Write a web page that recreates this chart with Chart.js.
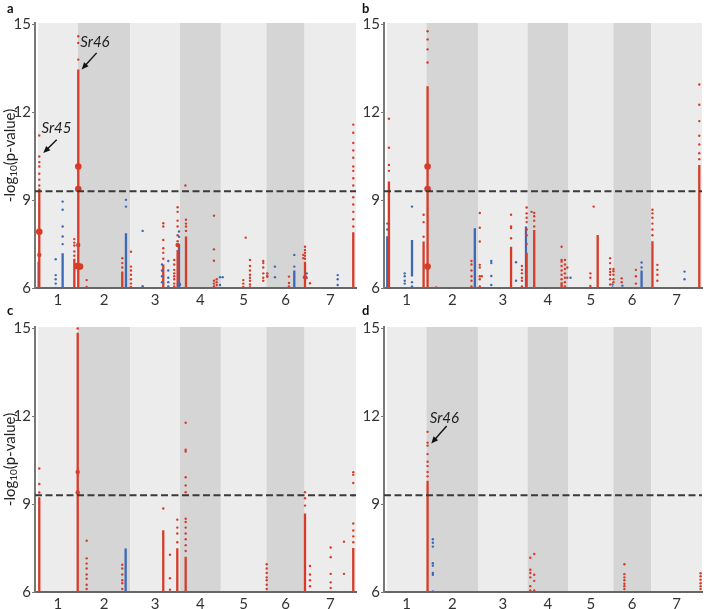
<!DOCTYPE html>
<html><head><meta charset="utf-8">
<script src="https://cdn.jsdelivr.net/npm/chart.js@4/dist/chart.umd.min.js"></script>
<style>
html,body{margin:0;padding:0;background:#fff;}
#wrap{position:relative;width:706px;height:609px;overflow:hidden;}
.p{position:absolute;}
canvas{display:block;}
</style></head><body>
<div id="wrap">
<div class="p" style="left:0;top:0;width:360px;height:305px"><canvas id="ca" width="360" height="305"></canvas></div>
<div class="p" style="left:352px;top:0;width:354px;height:305px"><canvas id="cb" width="354" height="305"></canvas></div>
<div class="p" style="left:0;top:300px;width:360px;height:309px"><canvas id="cc" width="360" height="309"></canvas></div>
<div class="p" style="left:352px;top:300px;width:354px;height:309px"><canvas id="cd" width="354" height="309"></canvas></div>
</div>
<script>
// ---------- shared data ----------
const chromosomes = ['1','2','3','4','5','6','7'];
const chromLengthsMb = [495, 651, 615, 509, 566, 473, 638];
const yTickValues = [6, 9, 12, 15];
const threshold = 9.3;

// ---------- panel a ----------
const aRedRuns = [[16,6,9.4],[451,6,7.0],[500,6,13.46],[1046,6,6.56],[1555,6,6.8],[1733,6,7.3],[1837,6,7.76],[3314,6,6.9],[3913,6,7.9]];
const aBlueRuns = [[8,6,6.9],[306,6,7.19],[1092,6,7.87],[1750,6,7.5],[3181,6,6.6]];
const aRedDots = [
 [16,[9.5,9.7,9.9,10.15,10.3,10.49,11.21]],
 [451,[7.67,7.55,7.45,7.25,7.1]],
 [500,[13.8,14.37,14.6]],
 [604,[6.27,6.04]],
 [1046,[7.02,6.85,6.7]],
 [1154,[7.24,6.73,6.6,6.45,6.3,6.15,6.04]],
 [1555,[8.21,8.1,7.64,7.36,7.2,7.0]],
 [1691,[6.96,6.8,6.62,6.5,6.4,6.3,6.15,6.05]],
 [1733,[8.76,8.6,8.3,8.1,7.8,7.6,7.45]],
 [1830,[9.5]],
 [1837,[8.33,8.2,8.1,7.95]],
 [2184,[8.47,7.32,6.93,6.25,6.15,6.05]],
 [2218,[6.3,6.2,6.1,6.0]],
 [2548,[6.27,6.15,6.04]],
 [2578,[7.72]],
 [2631,[6.96,6.75,6.6,6.45,6.35,6.25,6.12,6.03]],
 [2796,[6.92,6.85,6.7,6.5,6.35,6.25]],
 [2846,[6.5,6.42,6.38]],
 [3115,[6.39,6.17,6.05]],
 [3293,[7.13,7.02]],
 [3314,[7.41,7.3,7.2,7.1,7.0]],
 [3376,[6.16]],
 [3913,[8.1,8.35,8.6,8.85,9.1,9.5,9.75,10.0,10.15,10.45,10.7,10.95,11.3,11.58]]
];
const aBlueDots = [
 [220,[6.98,6.44,6.3,6.15,6.0]],
 [306,[8.95,8.67,8.10,7.76,7.5]],
 [1092,[9.01,8.78]],
 [1299,[7.95,6.06]],
 [1539,[6.8,6.6,6.4,6.2]],
 [1617,[6.92,6.6,6.35,6.2,6.05]],
 [1750,[7.93,7.75]],
 [2259,[6.37,6.1]],
 [2292,[6.37]],
 [2941,[6.73,6.37]],
 [3181,[7.13,6.73]],
 [3335,[6.5,6.35]],
 [3720,[6.44,6.3,6.1]]
];
const aBigRed = [[16,7.92],[500,10.15],[500,9.38],[490,6.75],[522,6.73]];
const aMidRed = [[16,7.13],[500,7.47],[1733,7.47],[3314,6.37]];
const aBigBlue = [[1750,6.12]];

// ---------- panel b ----------
const bRedRuns = [[25,6,9.64],[459,6,7.59],[509,6,12.89],[1555,6,7.41],[1750,6,7.2],[1845,6,7.98],[2188,6,6.2],[2640,6,7.81],[3326,6,7.6],[3913,6,10.2]];
const bBlueRuns = [[4,6,7.77],[314,6.39,7.64],[1101,6,8.04],[1742,6,8.10],[3190,6,6.6]];
const bRedDots = [
 [25,[10.0,10.2,10.79,11.78]],
 [459,[8.50,8.25,7.75]],
 [509,[13.7,14.15,14.49,14.77]],
 [617,[6.02]],
 [1059,[6.92,6.8,6.6,6.4,6.25,6.05]],
 [1163,[8.56,8.06,7.59,6.79,6.7,6.4,6.3,6.05]],
 [1188,[6.4]],
 [1555,[8.50,8.1,8.05,7.7]],
 [1691,[6.75,6.62,6.5,6.35,6.25,6.05]],
 [1750,[8.75,8.55,8.4,8.25,8.0,7.8,7.5]],
 [1812,[8.6]],
 [1845,[8.56,8.45,8.3,8.1]],
 [2188,[7.41,6.96,6.9,6.75,6.6,6.45,6.3]],
 [2230,[6.96,6.8,6.65,6.5,6.35,6.2,6.05]],
 [2259,[6.7,6.35]],
 [2548,[6.5,6.35,6.07]],
 [2590,[8.78]],
 [2796,[7.02,6.85,6.65,6.55,6.45,6.3,6.12]],
 [2838,[6.65,6.57,6.45,6.3,6.2]],
 [2941,[6.33,6.2]],
 [3119,[6.62,6.4,6.15]],
 [3326,[8.67,8.55,8.4,8.2,8.0,7.8]],
 [3388,[6.79,6.62,6.45,6.25]],
 [3913,[10.4,10.6,10.9,11.2,11.7,12.26,12.95]]
];
const bBlueDots = [
 [4,[8.0,8.2]],
 [223,[6.5,6.4,6.25,6.15]],
 [314,[8.78,6.2,6.05]],
 [1307,[6.92,6.85,6.41,6.1]],
 [1617,[6.88,6.25]],
 [2300,[6.35]],
 [2826,[6.12,6.02]],
 [2950,[6.08]],
 [3190,[6.87,6.7]],
 [3728,[6.56,6.3]]
];
const bBigRed = [[509,10.15],[509,9.38],[509,6.73]];
const bMidRed = [];
const bBigBlue = [];

// ---------- panel c ----------
const cRedRuns = [[16,6,9.24],[493,6,14.85],[1555,6,8.11],[1729,6,7.49],[1833,6,7.2],[3314,6,8.68],[3913,6,7.5]];
const cBlueRuns = [[1088,6,7.49]];
const cRedDots = [
 [16,[9.4,9.69,10.22]],
 [493,[15.0]],
 [604,[7.75,7.15,6.97,6.8,6.6,6.45,6.25,6.1]],
 [1046,[6.93,6.8,6.6,6.4,6.3,6.1]],
 [1555,[8.85]],
 [1638,[7.27,6.47,6.08]],
 [1729,[8.47,8.2,8.0,7.7]],
 [1833,[11.78,10.86,10.8,9.92,9.64,9.41,8.5,8.39,8.2,8.0,7.8,7.6,7.4]],
 [2839,[6.95,6.8,6.65,6.5,6.4,6.25,6.1]],
 [3314,[9.41,9.2,8.95]],
 [3376,[6.89,6.6,6.4,6.2]],
 [3633,[7.52,7.19,6.62,6.33,6.14]],
 [3798,[7.72,6.62]],
 [3913,[10.09,10.0,9.72,9.3,8.34,8.1,7.9,7.7]]
];
const cBlueDots = [];
const cBigRed = [];
const cMidRed = [[493,10.1],[493,9.4]];
const cBigBlue = [];

// ---------- panel d ----------
const dRedRuns = [[509,6,9.8]];
const dBlueRuns = [];
const dRedDots = [
 [509,[9.95,10.1,10.3,10.45,10.71,11.0,11.1,11.47]],
 [1796,[7.17,6.76,6.65,6.5,6.2,6.05]],
 [1845,[7.3,6.59,6.38,6.05]],
 [2975,[6.95,6.61,6.5,6.4,6.28,6.2,6.1]],
 [3929,[6.64,6.54,6.42,6.3,6.2,6.1]]
];
const dBlueDots = [[575,[7.8,7.68,7.55,6.98,6.9,6.65,6.59,6.02]]];
const dBigRed = [];
const dMidRed = [];
const dBigBlue = [];

// ---------- styles ----------
const RED = '#d63c29';
const BLUE = '#3c68b8';
const BAND_LIGHT = '#ececec';
const BAND_DARK = '#d5d5d5';
const FONT = 'Lato, "Open Sans", "Liberation Sans", sans-serif';
Chart.defaults.font.family = FONT;

const genomeEnd = chromLengthsMb.reduce((a,b)=>a+b,0);
const chromStarts = chromLengthsMb.map((l,i)=>chromLengthsMb.slice(0,i).reduce((a,b)=>a+b,0));
const chromCenters = chromLengthsMb.map((l,i)=>chromStarts[i]+l/2);
const X_MIN = -37;

function runsData(runs){const out=[];runs.forEach(([x,lo,hi])=>{out.push({x:x,y:lo},{x:x,y:hi},{x:x,y:null});});return out;}
function dotsData(groups){const out=[];groups.forEach(([x,ys])=>ys.forEach(y=>out.push({x:x,y:y})));return out;}
function pairsData(pairs){return pairs.map(([x,y])=>({x:x,y:y}));}

const bandsPlugin = {
  id:'bands',
  beforeDraw(chart){
    const {ctx, chartArea, scales} = chart; const x = scales.x;
    ctx.save();
    chromLengthsMb.forEach((len,i)=>{
      const x0 = x.getPixelForValue(chromStarts[i]);
      const x1 = x.getPixelForValue(chromStarts[i]+len);
      ctx.fillStyle = i%2 ? BAND_DARK : BAND_LIGHT;
      ctx.fillRect(x0, chartArea.top, x1-x0, chartArea.bottom-chartArea.top);
    });
    ctx.restore();
  }
};

const decorPlugin = {
  id:'decor',
  afterDraw(chart, args, opts){
    const {ctx, chartArea, scales} = chart;
    ctx.save();
    ctx.fillStyle = '#111';
    ctx.font = 'bold 13px ' + FONT;
    ctx.textBaseline = 'alphabetic';
    ctx.textAlign = 'left';
    ctx.fillText(opts.letter, opts.letterX, opts.letterY);
    if (opts.yTitle){
      const midY = (chartArea.top + chartArea.bottom)/2;
      ctx.translate(10, midY);
      ctx.rotate(-Math.PI/2);
      const big = '15px ' + FONT, small = '10px ' + FONT;
      ctx.font = big; const w1 = ctx.measureText('-log').width;
      ctx.font = small; const w2 = ctx.measureText('10').width;
      ctx.font = big; const w3 = ctx.measureText('(p-value)').width;
      let sx = -(w1+w2+w3)/2;
      ctx.fillStyle = '#222';
      ctx.textBaseline = 'middle';
      ctx.font = big; ctx.fillText('-log', sx, 0); sx += w1;
      ctx.font = small; ctx.fillText('10', sx, 4); sx += w2;
      ctx.font = big; ctx.fillText('(p-value)', sx, 0);
      ctx.setTransform(1,0,0,1,0,0);
    }
    (opts.notes||[]).forEach(n=>{
      const X = v=>scales.x.getPixelForValue(v), Y = v=>scales.y.getPixelForValue(v);
      ctx.fillStyle = '#222';
      ctx.font = 'italic 15px ' + FONT;
      ctx.textAlign = 'center'; ctx.textBaseline = 'middle';
      ctx.fillText(n.text, X(n.tx), Y(n.ty));
      const x0 = X(n.ax0), y0 = Y(n.ay0), x1 = X(n.ax1), y1 = Y(n.ay1);
      const ang = Math.atan2(y1-y0, x1-x0);
      ctx.strokeStyle = '#111'; ctx.lineWidth = 1.4;
      ctx.beginPath(); ctx.moveTo(x0,y0); ctx.lineTo(x1-5*Math.cos(ang), y1-5*Math.sin(ang)); ctx.stroke();
      ctx.beginPath();
      ctx.moveTo(x1,y1);
      ctx.lineTo(x1-7*Math.cos(ang)+3*Math.sin(ang), y1-7*Math.sin(ang)-3*Math.cos(ang));
      ctx.lineTo(x1-7*Math.cos(ang)-3*Math.sin(ang), y1-7*Math.sin(ang)+3*Math.cos(ang));
      ctx.closePath(); ctx.fillStyle = '#111'; ctx.fill();
    });
    ctx.restore();
  }
};

function makePanel(id, d, lay){
  const datasets = [
    {type:'line', data:[{x:X_MIN,y:threshold},{x:genomeEnd,y:threshold}], borderColor:'#3a3a3a', borderWidth:2, borderDash:[7,3.5], pointRadius:0, fill:false},
    {type:'scatter', data:pairsData(d.bigRed), backgroundColor:RED, borderWidth:0, pointRadius:3.3},
    {type:'scatter', data:pairsData(d.midRed), backgroundColor:RED, borderWidth:0, pointRadius:2.2},
    {type:'scatter', data:pairsData(d.bigBlue), backgroundColor:BLUE, borderWidth:0, pointRadius:2.2},
    {type:'scatter', data:dotsData(d.redDots), backgroundColor:RED, borderWidth:0, pointRadius:1.2},
    {type:'scatter', data:dotsData(d.blueDots), backgroundColor:BLUE, borderWidth:0, pointRadius:1.2},
    {type:'line', data:runsData(d.redRuns), borderColor:RED, borderWidth:2.3, pointRadius:0, spanGaps:false, fill:false},
    {type:'line', data:runsData(d.blueRuns), borderColor:BLUE, borderWidth:2.3, pointRadius:0, spanGaps:false, fill:false}
  ];
  return new Chart(document.getElementById(id), {
    type:'scatter',
    data:{datasets:datasets},
    plugins:[bandsPlugin, decorPlugin],
    options:{
      responsive:false, animation:false, devicePixelRatio:1,
      layout:{padding:{top:lay.padTop, right:lay.padRight, left:0, bottom:0}},
      plugins:{legend:{display:false}, tooltip:{enabled:false},
        decor:{letter:lay.letter, letterX:lay.letterX, letterY:lay.letterY, yTitle:lay.yTitle, notes:lay.notes}},
      scales:{
        x:{type:'linear', min:X_MIN, max:genomeEnd,
          afterBuildTicks:(s)=>{s.ticks = chromCenters.map(v=>({value:v}));},
          afterFit:(s)=>{s.height = lay.xHeight;},
          ticks:{autoSkip:false, maxRotation:0, padding:3, color:'#333', font:{size:15},
            callback:(v,i)=>chromosomes[i]},
          grid:{display:false, drawTicks:false, tickLength:0},
          border:{display:true, color:'#666', width:2}
        },
        y:{type:'linear', min:6, max:15.05,
          afterBuildTicks:(s)=>{s.ticks = yTickValues.map(v=>({value:v}));},
          afterFit:(s)=>{s.width = lay.yWidth;},
          ticks:{padding:1, color:'#333', font:{size:15}},
          grid:{display:true, drawOnChartArea:false, drawTicks:true, tickLength:3, color:'#777', lineWidth:1},
          border:{display:true, color:'#777', width:2}
        }
      }
    }
  });
}

makePanel('ca', {redRuns:aRedRuns, blueRuns:aBlueRuns, redDots:aRedDots, blueDots:aBlueDots, bigRed:aBigRed, midRed:aMidRed, bigBlue:aBigBlue},
  {padTop:23, padRight:3, xHeight:17, yWidth:35, letter:'a', letterX:7, letterY:13, yTitle:true,
   notes:[{text:'Sr45', tx:230, ty:11.47, ax0:232, ay0:11.06, ax1:66, ay1:10.61},
          {text:'Sr46', tx:707, ty:14.38, ax0:728, ay0:14.03, ax1:542, ay1:13.46}]});
makePanel('cb', {redRuns:bRedRuns, blueRuns:bBlueRuns, redDots:bRedDots, blueDots:bBlueDots, bigRed:bBigRed, midRed:bMidRed, bigBlue:bBigBlue},
  {padTop:23, padRight:0, xHeight:17, yWidth:32, letter:'b', letterX:10, letterY:13, yTitle:false, notes:[]});
makePanel('cc', {redRuns:cRedRuns, blueRuns:cBlueRuns, redDots:cRedDots, blueDots:cBlueDots, bigRed:cBigRed, midRed:cMidRed, bigBlue:cBigBlue},
  {padTop:27, padRight:3, xHeight:17, yWidth:35, letter:'c', letterX:7, letterY:15, yTitle:true, notes:[]});
makePanel('cd', {redRuns:dRedRuns, blueRuns:dBlueRuns, redDots:dRedDots, blueDots:dBlueDots, bigRed:dBigRed, midRed:dMidRed, bigBlue:dBigBlue},
  {padTop:27, padRight:0, xHeight:17, yWidth:32, letter:'d', letterX:10, letterY:15, yTitle:false,
   notes:[{text:'Sr46', tx:720, ty:11.95, ax0:748, ay0:11.67, ax1:555, ay1:11.07}]});
</script>
</body></html>
